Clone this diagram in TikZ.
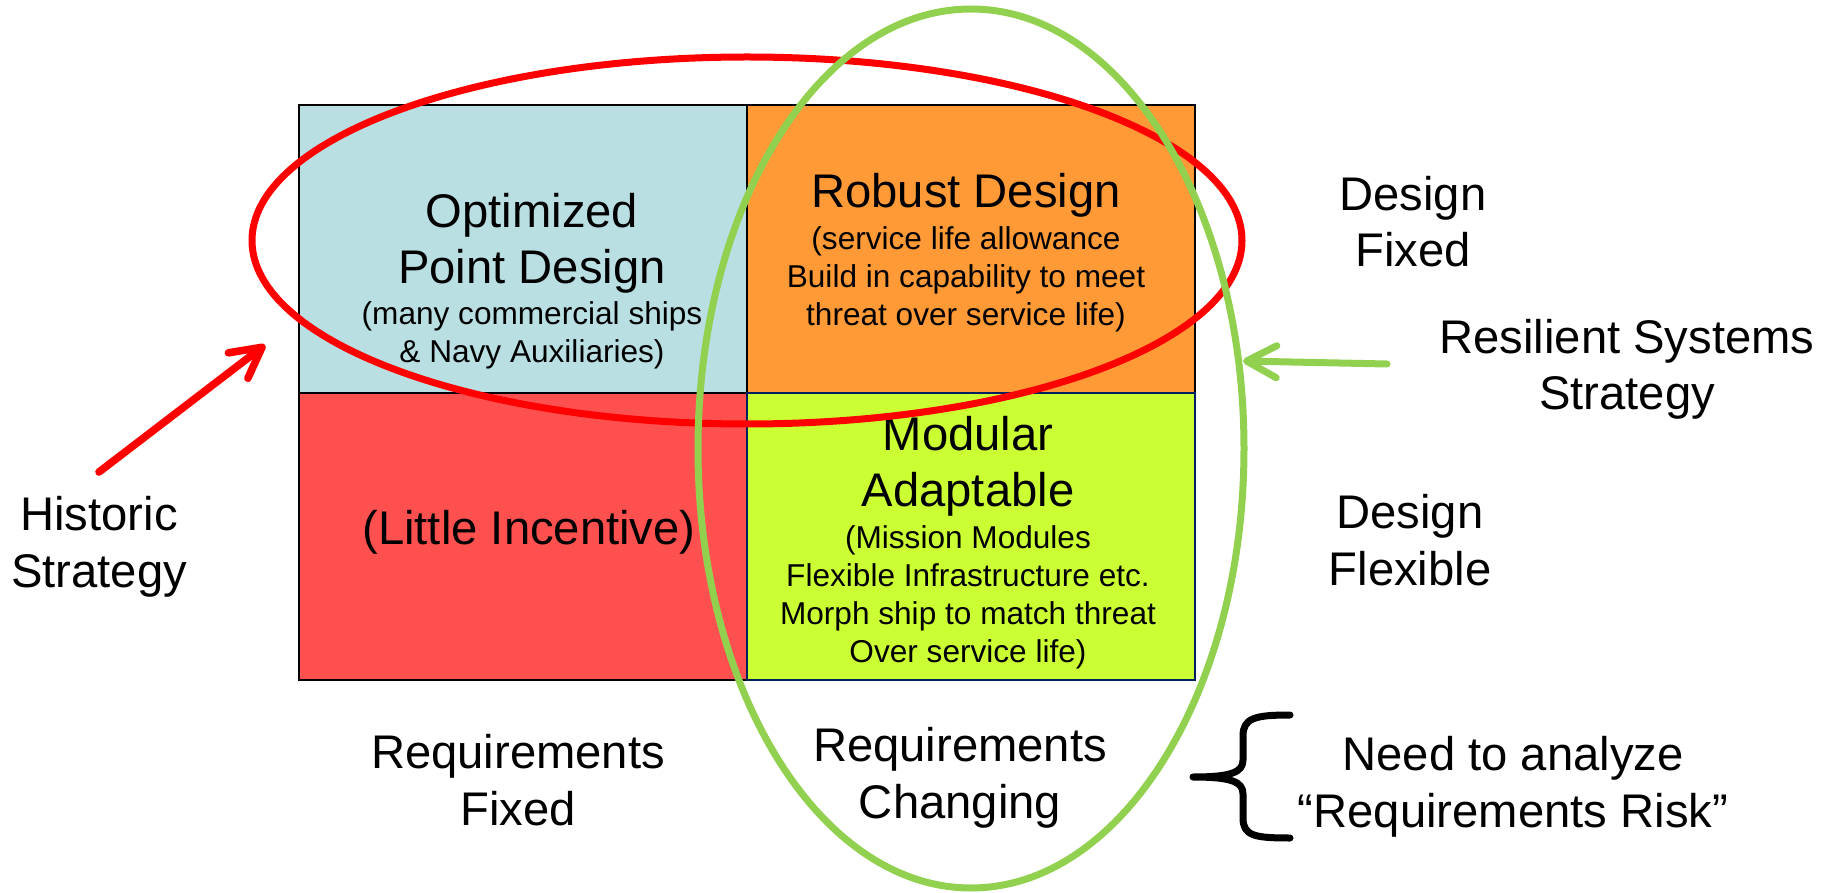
\documentclass[tikz,border=0pt]{standalone}
\usepackage{fontspec}
\setmainfont{Liberation Sans}
\usetikzlibrary{arrows.meta}

\definecolor{cellblue}{HTML}{B9DFE3}
\definecolor{cellorange}{HTML}{FF9A36}
\definecolor{cellred}{HTML}{FF5050}
\definecolor{cellgreen}{HTML}{CCFF33}
\definecolor{ringred}{HTML}{FF0000}
\definecolor{ringgreen}{HTML}{92D050}
\definecolor{navyline}{HTML}{002060}

\newcommand{\bigtxt}{\fontsize{23.6pt}{28.4pt}\selectfont}
\newcommand{\smalltxt}{\fontsize{15.8pt}{19pt}\selectfont}

\begin{document}
\begin{tikzpicture}[%
      x=0.5pt, y=-0.5pt,
      big/.style={font=\bigtxt, align=center, anchor=base, inner sep=0pt},
      small/.style={font=\smalltxt, align=center, anchor=base, inner sep=0pt},
      ring/.style={line width=3.5pt},
      pointer/.style={line width=3.8pt, line cap=round,
        -{Straight Barb[length=15pt,width=16pt,round]}},
      ]
      \useasboundingbox (0,0) rectangle (1833,893);

      % the four quadrants
      \filldraw [fill=cellblue, draw=black, line width=1pt] (299,105) rectangle (747,393);
      \filldraw [fill=cellorange, draw=black, line width=1pt] (747,105) rectangle (1195,393);
      \filldraw [fill=cellred, draw=black, line width=1pt] (299,393) rectangle (747,680);
      \filldraw [fill=cellgreen, draw=navyline, line width=1pt] (747,393) rectangle (1195,680);

      % (base = last line of each node)
      \node [big] (optT) at (532,284) {Optimized\\Point Design};
      \node [small] (optS) at (532,363) {(many commercial ships\\\& Navy Auxiliaries)};
      \node [big] (robT) at (966,208) {Robust Design};
      \node [small] (robS) at (966,326) {(service life allowance\\Build in capability to meet\\threat over service life)};
      \node [big] (modT) at (968,507) {Modular\\Adaptable};
      \node [small] (modS) at (968,662) {(Mission Modules\\Flexible Infrastructure etc.\\Morph ship to match threat\\Over service life)};
      \node [big] (little) at (529,545) {(Little Incentive)};

      % labels round the grid
      \node [big] (dfix) at (1413,267) {Design\\Fixed};
      \node [big] (dflex) at (1410,585) {Design\\Flexible};
      \node [big] (resil) at (1627,410) {Resilient Systems\\Strategy};
      \node [big] (hist) at (99,587) {Historic\\Strategy};
      \node [big] (rfix) at (518,825) {Requirements\\Fixed};
      \node [big] (rchg) at (960,818) {Requirements\\Changing};
      \node [big] (need) at (1513,827) {Need to analyze\\“Requirements Risk”};

      % strategies
      \draw [ring, color=ringred] (747,240.5) ellipse [x radius=247.5pt, y radius=91.75pt];
      \draw [ring, color=ringgreen] (971,448.5) ellipse [x radius=136.5pt, y radius=219.75pt];

      \coordinate (histtail) at (99,472);
      \coordinate (histtip) at (265,345);
      \coordinate (resiltail) at (1387,364);
      \coordinate (resiltip) at (1243,361);
      \draw [pointer, color=ringred] (histtail) -- (histtip);
      \draw [pointer, color=ringgreen, line width=3.5pt] (resiltail) -- (resiltip);

      % brace
      \coordinate (bracetop) at (1290,715);
      \coordinate (bracetip) at (1193,777);
      \coordinate (bracebot) at (1290,838);
      \draw [line width=3.5pt, line cap=round, line join=round]
        (bracetop) .. controls (1255,715) and (1243,718) .. (1243,736) -- (1243,760)
        .. controls (1243,772) and (1232,777) .. (bracetip)
        .. controls (1232,777) and (1243,782) .. (1243,794) -- (1243,818)
        .. controls (1243,836) and (1255,838) .. (bracebot);
\end{tikzpicture}
\end{document}
